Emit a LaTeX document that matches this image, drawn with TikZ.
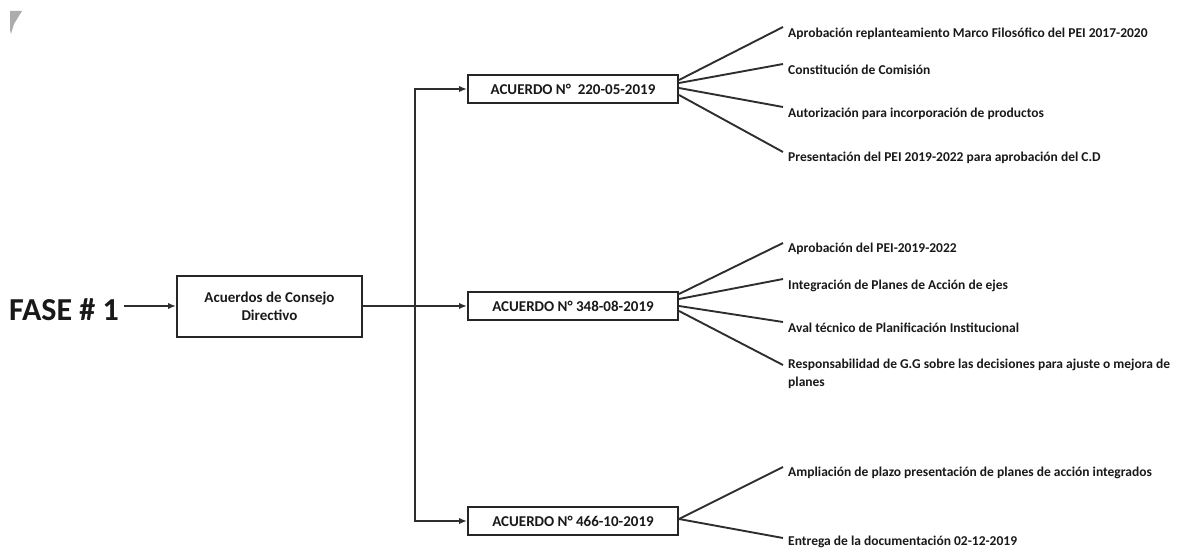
\documentclass[tikz,border=0pt]{standalone}
\usepackage[usenames,dvipsnames]{xcolor}
\usepackage{fontspec}
\setmainfont{Carlito}
\usetikzlibrary{arrows,arrows.meta,positioning}

\begin{document}
\begin{tikzpicture}[x=1pt,y=-1pt]
  \tikzset{BoxStyle/.style  = {draw=black!85, line width=2pt, fill=white,
                               minimum width=210pt, minimum height=28pt,
                               inner sep=0pt, text=black!90,
                               font=\fontsize{15}{18}\selectfont\bfseries},
           LeafStyle/.style = {anchor=base west, inner sep=0pt, align=left,
                               text=black!90,
                               font=\fontsize{13.5}{18}\selectfont\bfseries},
           EdgeStyle/.style = {line width=1.9pt, draw=black!82},
           ArrowStyle/.style= {EdgeStyle, -{Latex[length=8pt,width=6.5pt]}}}
  \useasboundingbox (0,0) rectangle (1177,548);

% mark
\fill[gray!65] (10,11) -- (22,11) -- (14,24) -- (11,34) -- (10,30) -- cycle;

% level 0
\node[anchor=base west, inner sep=0pt, text=black!90,
      font=\fontsize{32}{38}\selectfont\bfseries] (fase) at (9,320) {FASE \# 1};
\node[BoxStyle, minimum width=185pt, minimum height=61pt, align=center]
      (cd) at (269.5,306) {Acuerdos de Consejo\\Directivo};

% level 1
\node[BoxStyle] (a1) at (573,89)  {ACUERDO N°~~220-05-2019};
\node[BoxStyle] (a2) at (573,306) {ACUERDO N° 348-08-2019};
\node[BoxStyle] (a3) at (573,521) {ACUERDO N° 466-10-2019};
\coordinate (jn) at (415,306);

% level 2
\node[LeafStyle] (l11) at (788,37.5)  {Aprobación replanteamiento Marco Filosófico del PEI 2017-2020};
\node[LeafStyle] (l12) at (788,74.5)  {Constitución de Comisión};
\node[LeafStyle] (l13) at (788,117.5) {Autorización para incorporación de productos};
\node[LeafStyle] (l14) at (788,161.5) {Presentación del PEI 2019-2022 para aprobación del C.D};

\node[LeafStyle] (l21) at (788,252.5) {Aprobación del PEI-2019-2022};
\node[LeafStyle] (l22) at (788,289.5) {Integración de Planes de Acción de ejes};
\node[LeafStyle] (l23) at (788,332.5) {Aval técnico de Planificación Institucional};
\node[LeafStyle] (l24) at (788,386.5) {Responsabilidad de G.G sobre las decisiones para ajuste o mejora de\\planes};

\node[LeafStyle] (l31) at (788,476.5) {Ampliación de plazo presentación de planes de acción integrados};
\node[LeafStyle] (l32) at (788,545)   {Entrega de la documentación 02-12-2019};

% edges
\draw[ArrowStyle] ([xshift=5pt]fase.east |- cd.west) -- (cd.west);
\draw[EdgeStyle] (cd.east) -- (jn);
\draw[ArrowStyle] (jn) |- (a1.west);
\draw[ArrowStyle] (jn) -- (a2.west);
\draw[ArrowStyle] (jn) |- (a3.west);

\draw[EdgeStyle] ([yshift=9pt]a1.east)  -- ([xshift=-5pt,yshift=10.5pt]l11.base west);
\draw[EdgeStyle] ([yshift=6pt]a1.east)  -- ([xshift=-5pt,yshift=10.5pt]l12.base west);
\draw[EdgeStyle] ([yshift=1pt]a1.east)  -- ([xshift=-5pt,yshift=10.5pt]l13.base west);
\draw[EdgeStyle] ([yshift=-6pt]a1.east) -- ([xshift=-5pt,yshift=9.5pt]l14.base west);

\draw[EdgeStyle] ([yshift=12pt]a2.east) -- ([xshift=-5pt,yshift=9.5pt]l21.base west);
\draw[EdgeStyle] ([yshift=7pt]a2.east)  -- ([xshift=-5pt,yshift=10.5pt]l22.base west);
\draw[EdgeStyle] (a2.east)              -- ([xshift=-5pt,yshift=10.5pt]l23.base west);
\draw[EdgeStyle] ([yshift=-5pt]a2.east) -- ([xshift=-5pt,yshift=21.5pt]l24.base west);

\draw[EdgeStyle] ([yshift=2pt]a3.east)  -- ([xshift=-5pt,yshift=9.5pt]l31.base west);
\draw[EdgeStyle] ([yshift=2pt]a3.east)  -- ([xshift=-5pt,yshift=7pt]l32.base west);

\end{tikzpicture}
\end{document}
